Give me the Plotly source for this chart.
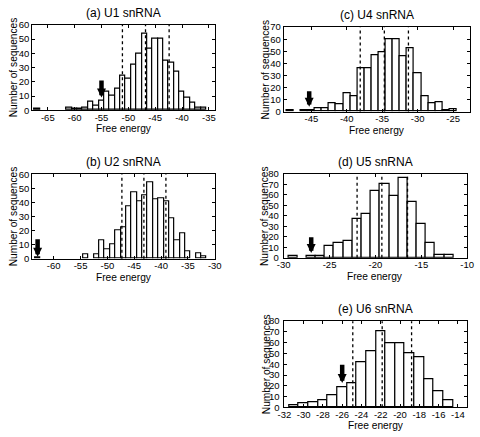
import plotly.graph_objects as go

W, H = 480, 437
FONT = "Liberation Sans, Arial, Helvetica, sans-serif"

# ---------------- data ----------------
u1_energy = [-67, -61, -60, -59, -58, -57, -56, -55, -54, -53, -52, -51, -50, -49,
             -48, -47, -46, -45, -44, -43, -42, -41, -40, -39, -38, -37, -36]
u1_count = [1, 2, 1, 1, 2, 6, 3, 7, 13, 10, 15, 24, 22, 32,
            40, 54, 43, 50, 50, 35, 33, 27, 13, 9, 5, 2, 2]

u2_energy = [-63, -54, -52, -51, -50, -49, -48, -47, -46, -45, -44, -43, -42, -41,
             -40, -39, -38, -37, -36, -35, -33, -32]
u2_count = [1, 3, 3, 13, 7, 10, 20, 22, 37, 47, 41, 45, 54, 42,
            43, 41, 29, 13, 18, 5, 4, 2]

u4_energy = [-48, -46, -45, -44, -43, -42, -41, -40, -39, -38, -37, -36, -35, -34,
             -33, -32, -31, -30, -29, -28, -27, -26, -25]
u4_count = [1, 1, 1, 3, 3, 7, 6, 15, 13, 36, 36, 47, 49, 60,
            60, 46, 53, 32, 13, 7, 8, 1, 2]

u5_energy = [-29, -27, -26, -25, -24, -23, -22, -21, -20, -19, -18, -17, -16, -15,
             -14, -13, -12]
u5_count = [2, 2, 2, 11, 14, 16, 37, 42, 64, 70, 59, 76, 53, 32, 14, 3, 3]

u6_energy = [-31, -30, -29, -28, -27, -26, -25, -24, -23, -22, -21, -20, -19, -18,
             -17, -16, -15]
u6_count = [2, 4, 5, 7, 11, 19, 22, 42, 52, 71, 60, 60, 50, 47, 26, 15, 7]

# mean and +/- SD reference lines
u1_lines = [-51.1, -46.8, -42.4]
u2_lines = [-47.3, -43.2, -39.1]
u4_lines = [-38.1, -34.7, -31.3]
u5_lines = [-22.0, -19.3, -16.5]
u6_lines = [-24.9, -21.85, -18.8]

# arrows: (x, top, tip)
u1_arrow = (-55, 22, 9)
u2_arrow = (-63, 15, 1.5)
u4_arrow = (-45.3, 18, 4)
u5_arrow = (-27, 21, 4.6)
u6_arrow = (-26, 41, 22.5)

titles = ["(a) U1 snRNA", "(b) U2 snRNA", "(c) U4 snRNA", "(d) U5 snRNA", "(e) U6 snRNA"]

u1_xticks = [-65, -60, -55, -50, -45, -40, -35]
u2_xticks = [-60, -55, -50, -45, -40, -35, -30]
u4_xticks = [-45, -40, -35, -30, -25]
u5_xticks = [-30, -25, -20, -15, -10]
u6_xticks = [-32, -30, -28, -26, -24, -22, -20, -18, -16, -14]

# ---------------- layout geometry (pixels) ----------------
panels = [
    dict(e=u1_energy, c=u1_count, lines=u1_lines, arrow=u1_arrow, xt=u1_xticks,
         xr=[-67.9, -33.9], ymax=60, px=(26, 214), py=(19.3, 107), title=titles[0], yso=0),
    dict(e=u2_energy, c=u2_count, lines=u2_lines, arrow=u2_arrow, xt=u2_xticks,
         xr=[-64.0, -30.0], ymax=60, px=(26, 214), py=(172.7, 259.3), title=titles[1], yso=0),
    dict(e=u4_energy, c=u4_count, lines=u4_lines, arrow=u4_arrow, xt=u4_xticks,
         xr=[-48.9, -22.6], ymax=70, px=(285, 477), py=(21.7, 108.3), title=titles[2], yso=0),
    dict(e=u5_energy, c=u5_count, lines=u5_lines, arrow=u5_arrow, xt=u5_xticks,
         xr=[-30, -10], ymax=80, px=(285, 474), py=(172.3, 258.3), title=titles[3], yso=2),
    dict(e=u6_energy, c=u6_count, lines=u6_lines, arrow=u6_arrow, xt=u6_xticks,
         xr=[-32, -13], ymax=80, px=(285.7, 474.3), py=(323.3, 411.7), title=titles[4], yso=2),
]

fig = go.Figure()
layout = dict(
    width=W, height=H, margin=dict(l=0, r=0, t=0, b=0),
    paper_bgcolor="white", plot_bgcolor="white", showlegend=False,
    bargap=0, font=dict(family=FONT, color="black"),
)
shapes, annotations = [], []

for i, p in enumerate(panels):
    n = "" if i == 0 else str(i + 1)
    xa, ya = "x" + n, "y" + n
    fig.add_trace(go.Bar(
        x=p["e"], y=p["c"], width=1, xaxis=xa, yaxis=ya,
        marker=dict(color="white", line=dict(color="black", width=1.2)),
        hoverinfo="x+y",
    ))
    x0, x1 = p["px"]
    y0, y1 = p["py"]
    ax_common = dict(showline=True, linecolor="black", linewidth=1, mirror="ticks",
                     ticks="inside", ticklen=3, tickwidth=1, tickcolor="black",
                     showgrid=False, zeroline=False, tickfont=dict(size=9.5, family=FONT))
    layout["xaxis" + n] = dict(domain=[x0 / W, x1 / W], range=p["xr"], anchor=ya,
                               tickvals=p["xt"], ticktext=[str(v) for v in p["xt"]],
                               ticklabelstandoff=-2, **ax_common)
    yt = list(range(0, p["ymax"] + 1, 10))
    layout["yaxis" + n] = dict(domain=[1 - y1 / H, 1 - y0 / H], range=[0, p["ymax"]],
                               anchor=xa, tickvals=yt, ticktext=[str(v) for v in yt],
                               ticklabelstandoff=p["yso"], **ax_common)
    for lx in p["lines"]:
        shapes.append(dict(type="line", xref=xa, yref=ya + " domain", x0=lx, x1=lx,
                           y0=0, y1=1, line=dict(color="black", width=1.3, dash="dot")))
    axx, top, tip = p["arrow"]
    annotations.append(dict(x=axx, y=tip, ax=axx, ay=top, xref=xa, yref=ya,
                            axref=xa, ayref=ya, text="", showarrow=True,
                            arrowhead=2, arrowsize=0.4, arrowwidth=4.5, arrowcolor="black"))
    cx = (x0 + x1) / 2 / W
    # panel title
    annotations.append(dict(x=cx, y=1 - (y0 - 12.5) / H, xref="paper", yref="paper",
                            text=p["title"], showarrow=False, font=dict(size=12),
                            xanchor="center", yanchor="middle"))
    # x-axis title
    annotations.append(dict(x=cx, y=1 - (y1 + 19) / H, xref="paper", yref="paper",
                            text="Free energy", showarrow=False, font=dict(size=10.2),
                            xanchor="center", yanchor="middle"))
    # y-axis title
    annotations.append(dict(x=(x0 - 19) / W, y=1 - (y0 + y1) / 2 / H, xref="paper",
                            yref="paper", text="Number of sequences", textangle=-90,
                            showarrow=False, font=dict(size=10.2),
                            xanchor="center", yanchor="middle"))

layout["shapes"] = shapes
layout["annotations"] = annotations
fig.update_layout(**layout)
fig.write_html("out.html", config={"displayModeBar": False},
               post_script="document.body.style.margin='0';")
